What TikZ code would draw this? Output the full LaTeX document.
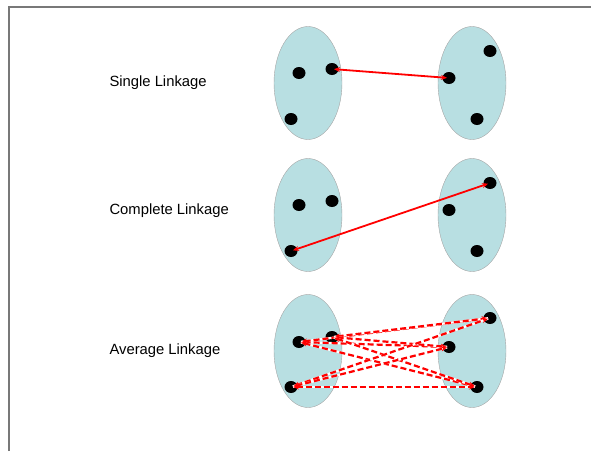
\documentclass[tikz,border=0pt]{standalone}
\usepackage{fontspec}
\setmainfont{Liberation Sans}
\usetikzlibrary{shapes.geometric,arrows.meta}
\definecolor{clusterblue}{RGB}{184,223,226}
\definecolor{framegray}{RGB}{120,120,120}
\begin{document}
\begin{tikzpicture}[x=1pt,y=-1pt]
\useasboundingbox (0,0) rectangle (591,451);
\tikzset{
  cluster/.style={ellipse, draw=gray!70, fill=clusterblue, minimum width=68pt, minimum height=113pt, inner sep=0pt},
  pt/.style={ellipse, fill=black, minimum width=13pt, minimum height=12pt, inner sep=0pt},
  link/.style={red, line width=1.8pt, {Stealth[length=6pt,width=5pt]}-{Stealth[length=6pt,width=5pt]}, shorten <=2pt, shorten >=2pt},
  avglink/.style={link, line width=2.2pt, dash pattern=on 6pt off 3pt,
    preaction={draw=white, solid, line width=2.2pt, arrows=-}},
  lbl/.style={font=\fontsize{14.8}{17}\selectfont, anchor=west}
}
% frame
\draw[framegray, line width=1.5pt] (9,451) -- (9,7) -- (591,7);
% single linkage
\node[lbl] (tsl) at (106,83) {Single Linkage};
\node[cluster] (sla) at (308,83){};
\node[cluster] (slb) at (472,83){};
\node[pt] (sl0) at (299,73){};
\node[pt] (sl1) at (332,69){};
\node[pt] (sl2) at (291,119){};
\node[pt] (sl3) at (490,51){};
\node[pt] (sl4) at (449,78){};
\node[pt] (sl5) at (477,119){};
\draw[link] (sl1.center) -- (sl4.center);
% complete linkage
\node[lbl] (tcl) at (106,211) {Complete Linkage};
\node[cluster] (cla) at (308,215){};
\node[cluster] (clb) at (472,215){};
\node[pt] (cl0) at (299,205){};
\node[pt] (cl1) at (332,201){};
\node[pt] (cl2) at (291,251){};
\node[pt] (cl3) at (490,183){};
\node[pt] (cl4) at (449,210){};
\node[pt] (cl5) at (477,251){};
\draw[link] (cl2.center) -- (cl3.center);
% average linkage
\node[lbl] (tal) at (106,351) {Average Linkage};
\node[cluster] (ala) at (308,351){};
\node[cluster] (alb) at (472,351){};
\node[pt] (al0) at (299,342){};
\node[pt] (al1) at (332,337){};
\node[pt] (al2) at (291,387){};
\node[pt] (al3) at (490,318){};
\node[pt] (al4) at (449,347){};
\node[pt] (al5) at (477,387){};
\foreach \i in {0,1,2}
  \foreach \j in {3,4,5}
    \draw[avglink] (al\i.center) -- (al\j.center);
\end{tikzpicture}
\end{document}
